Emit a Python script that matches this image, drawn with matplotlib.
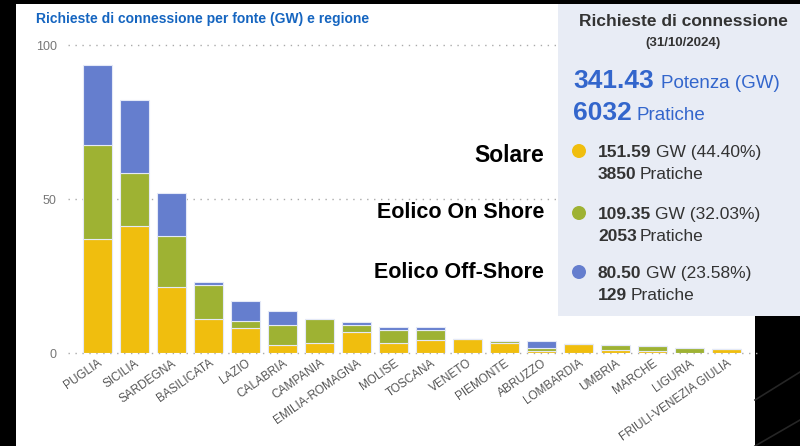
import matplotlib.pyplot as plt
from matplotlib.patches import Rectangle, Ellipse
from matplotlib.lines import Line2D
import numpy as np

plt.rcParams['font.family'] = ['Liberation Sans', 'DejaVu Sans']

# data (GW per region)
regions = ["PUGLIA", "SICILIA", "SARDEGNA", "BASILICATA", "LAZIO", "CALABRIA",
           "CAMPANIA", "EMILIA-ROMAGNA", "MOLISE", "TOSCANA", "VENETO", "PIEMONTE",
           "ABRUZZO", "LOMBARDIA", "UMBRIA", "MARCHE", "LIGURIA", "FRIULI-VENEZIA GIULIA"]
solare = [37.0, 41.2, 21.5, 11.2, 8.0, 2.6, 3.4, 6.7, 3.2, 4.2, 4.5, 3.4,
          0.8, 3.0, 0.85, 0.65, 0.1, 1.3]
onshore = [30.5, 17.3, 16.5, 10.9, 2.5, 6.6, 7.7, 2.5, 4.4, 3.4, 0.1, 0.6,
           0.9, 0.0, 1.75, 1.75, 1.4, 0.0]
offshore = [26.1, 23.7, 13.8, 1.0, 6.3, 4.5, 0.0, 1.0, 0.9, 0.8, 0.0, 0.0,
            2.3, 0.0, 0.0, 0.0, 0.0, 0.0]

yticks = [0, 50, 100]
series_names = ["Solare", "Eolico On Shore", "Eolico Off-Shore"]
totals = ["151.59", "109.35", "80.50"]
percents = ["44.40%", "32.03%", "23.58%"]
pratiche = ["3850", "2053", "129"]
total_gw = "341.43"
total_pratiche = "6032"

colors = ["#F0BE0E", "#9EB233", "#657ECE"]
W, H = 800, 446


def px(x, y):
    return x / W, 1 - y / H


fig = plt.figure(figsize=(8, 4.46), dpi=100, facecolor="black")

# background panels
fig.patches.append(Rectangle(px(16, 446), 739 / W, 442 / H, transform=fig.transFigure,
                             facecolor="white", edgecolor="none", zorder=-2))
for (x0, y0, x1, y1) in [(755, 400, 800, 372), (755, 446, 800, 420)]:
    fig.lines.append(Line2D([x0 / W, x1 / W], [1 - y0 / H, 1 - y1 / H], transform=fig.transFigure,
                            color="#262626", lw=1.2, zorder=-1))

l, b = px(68, 353)
_, t = px(68, 45)
ax = fig.add_axes([l, b, (757 - 68) / W, t - b])
ax.set_facecolor("none")
ax.set_zorder(1)

x = np.arange(len(regions))
bottom = np.zeros(len(regions))
for vals, c in zip([solare, onshore, offshore], colors):
    ax.bar(x, vals, bottom=bottom, width=0.78, color=c, edgecolor="#e4e9f7", linewidth=0.8, zorder=3)
    bottom += np.array(vals)

ax.set_ylim(0, 100)
ax.set_xlim(-0.8, 17.82)
ax.set_yticks(yticks)
ax.set_yticklabels([str(v) for v in yticks], color="#777777", fontsize=9)
for v in yticks:
    ax.axhline(v, color="#aaaaaa", lw=1, linestyle=(0, (1, 4)), zorder=1, clip_on=False)
ax.set_xticks(x)
ax.set_xticklabels(regions, rotation=35, ha="right", rotation_mode="anchor",
                   fontsize=8.5, color="#555555")
ax.tick_params(axis="x", length=0, pad=3)
ax.tick_params(axis="y", length=0, pad=8)
for s in ax.spines.values():
    s.set_visible(False)

fig.text(*px(36, 19), "Richieste di connessione per fonte (GW) e regione", color="#1565C0",
         fontsize=10, fontweight="bold", va="center", ha="left")

# series labels on the left of the panel
for name, yy, fs in zip(series_names, [156, 213, 273], [16.5, 15.5, 15.5]):
    fig.text(*px(544, yy), name, fontsize=fs, fontweight="bold", color="black",
             ha="right", va="center", zorder=5)

# summary panel
fig.patches.append(Rectangle(px(558, 316), 242 / W, 312 / H, transform=fig.transFigure,
                             facecolor="#E8ECF5", edgecolor="none", zorder=2))
fig.text(*px(683, 21), "Richieste di connessione", fontsize=12.5, fontweight="bold",
         color="#333333", ha="center", va="center", zorder=5)
fig.text(*px(683, 43), "(31/10/2024)", fontsize=9.5, fontweight="bold",
         color="#333333", ha="center", va="center", zorder=5)

fig.canvas.draw()
renderer = fig.canvas.get_renderer()


def pair(xp, yp, bold_txt, rest, size_b, size_r, color, gap):
    t1 = fig.text(*px(xp, yp), bold_txt, fontsize=size_b, fontweight="bold", color=color,
                  ha="left", va="baseline", zorder=5)
    bb = t1.get_window_extent(renderer)
    x_end = (bb.x1 + gap) / fig.bbox.width
    fig.text(x_end, 1 - yp / H, rest, fontsize=size_r, color=color,
             ha="left", va="baseline", zorder=5)


pair(573, 88, total_gw, "Potenza (GW)", 19, 13.5, "#3366CC", 7)
pair(573, 120, total_pratiche, "Pratiche", 19, 13.5, "#3366CC", 5)

for i, yy in enumerate([151, 213, 272]):
    fig.patches.append(Ellipse(px(579, yy), 14 / W, 14 / H, transform=fig.transFigure,
                               facecolor=colors[i], edgecolor="none", zorder=5))
    pair(598, yy + 6, totals[i], "GW (" + percents[i] + ")", 12.5, 12.5, "#333333", 4)
    pair(598, yy + 28, pratiche[i], "Pratiche", 12.5, 12.5, "#333333", 3)

fig.savefig("out.png", dpi=100, facecolor="black")
